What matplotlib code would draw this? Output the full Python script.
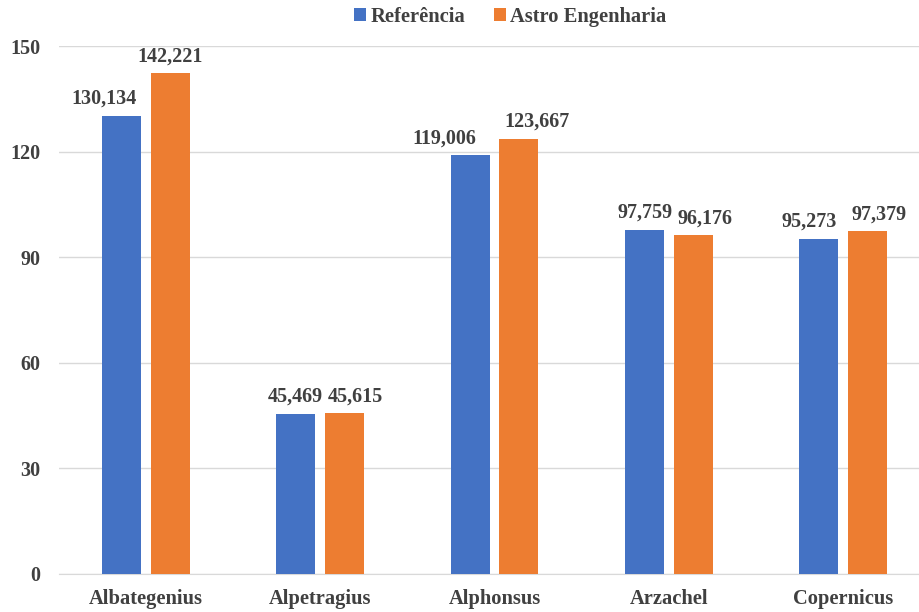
import matplotlib.pyplot as plt
import numpy as np

categorias = ["Albategenius", "Alpetragius", "Alphonsus", "Arzachel", "Copernicus"]
referencia = [130.134, 45.469, 119.006, 97.759, 95.273]
astro = [142.221, 45.615, 123.667, 96.176, 97.379]
series = ["Referência", "Astro Engenharia"]
cores = ["#4472C4", "#ED7D31"]
yticks = [0, 30, 60, 90, 120, 150]

# deslocamento horizontal dos rótulos (px), como no gráfico original
desloc = [[-18, -1, -26, 1, -9], [0, 11, 18, 12, 12]]

plt.rcParams['font.family'] = ['Liberation Serif', 'DejaVu Serif']
plt.rcParams['font.weight'] = 'bold'
texto = "#404040"

fig = plt.figure(figsize=(9.19, 6.12), dpi=100)
ax = fig.add_axes([0.0642, 0.0621, 0.9478, 0.8627])

x = np.arange(len(categorias))
w = 0.224
off = 0.14
for i, (vals, cor, nome) in enumerate(zip([referencia, astro], cores, series)):
    pos = x + (off if i else -off)
    ax.bar(pos, vals, width=w, color=cor, label=nome, zorder=3)
    for p, v, d in zip(pos, vals, desloc[i]):
        ax.annotate(f"{v:.3f}".replace(".", ","), (p, v), xytext=(d * 0.72, 8.6),
                    textcoords="offset points", ha="center", va="baseline",
                    fontsize=14.5, fontweight="bold", color=texto)

ax.set_xlim(-0.5, 4.5)
ax.set_ylim(0, 150)
ax.set_yticks(yticks)
ax.set_xticks(x)
ax.set_xticklabels(categorias)
ax.tick_params(axis="both", length=0, labelcolor=texto)
ax.tick_params(axis="y", labelsize=14.5, pad=13.5)
ax.tick_params(axis="x", labelsize=14.8, pad=11)
for lbl in ax.get_xticklabels() + ax.get_yticklabels():
    lbl.set_fontweight("bold")
ax.grid(axis="y", color="#d9d9d9", linewidth=1, zorder=0)
for s in ["top", "right", "left"]:
    ax.spines[s].set_visible(False)
ax.spines["bottom"].set_color("#d9d9d9")

fig.legend(loc="center", bbox_to_anchor=(0.555, 0.972), ncol=2, frameon=False,
           fontsize=14.8, handlelength=0.6, handleheight=0.6, handletextpad=0.2,
           columnspacing=1.4, labelcolor=texto)

fig.savefig("out.png", dpi=100)
